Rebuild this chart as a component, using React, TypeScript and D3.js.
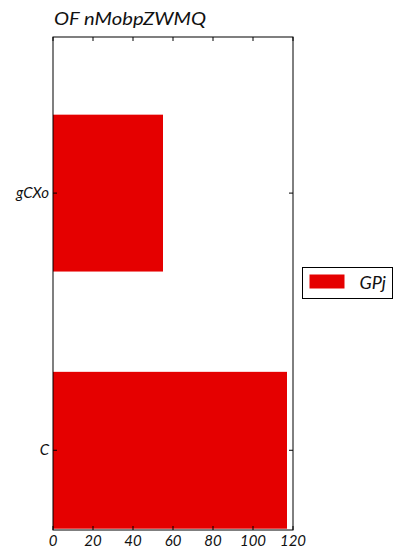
import React from 'react'
import { scaleLinear } from 'd3'

const categories = ['C', 'gCXo']
const seriesName = 'GPj'
const values = [117, 55]
const xTicks = [0, 20, 40, 60, 80, 100, 120]
const title = 'OF nMobpZWMQ'

const W = 420
const H = 560
const margin = { left: 53, right: 127, top: 37, bottom: 30 }
const FONT = "'Lato', 'DejaVu Sans', sans-serif"
const RED = '#e50000'

const App = () => {
    const x0 = margin.left
    const x1 = W - margin.right
    const y0 = margin.top
    const y1 = H - margin.bottom

    const xScale = scaleLinear().domain([0, 120]).range([x0, x1])
    const yScale = scaleLinear().domain([-0.31, 1.607]).range([y1, y0])
    const barH = yScale(0) - yScale(0.61)

    return (
        <svg width={W} height={H} style={{ position: 'absolute', left: 0, top: 0, background: '#fff' }}>
            <text
                x={x0 + 1}
                y={25}
                fontFamily={FONT}
                fontStyle="italic"
                fontSize={18}
                fill="#111"
                textLength={152}
                lengthAdjust="spacingAndGlyphs"
            >
                {title}
            </text>

            {categories.map((c, i) => (
                <rect
                    key={c}
                    x={xScale(0)}
                    y={yScale(i) - barH / 2}
                    width={xScale(values[i]) - xScale(0)}
                    height={barH}
                    fill={RED}
                />
            ))}

            {/* x ticks, inward on top and bottom */}
            {xTicks.map(t => (
                <g key={t}>
                    <line x1={xScale(t)} x2={xScale(t)} y1={y1} y2={y1 - 4} stroke="#000" strokeWidth={1} />
                    <line x1={xScale(t)} x2={xScale(t)} y1={y0} y2={y0 + 4} stroke="#000" strokeWidth={1} />
                    <text
                        x={xScale(t)}
                        y={y1 + 16}
                        textAnchor="middle"
                        fontFamily={FONT}
                        fontStyle="italic"
                        fontSize={15}
                        fill="#111"
                    >
                        {t}
                    </text>
                </g>
            ))}

            {/* y ticks */}
            {categories.map((c, i) => (
                <g key={c}>
                    <line x1={x0} x2={x0 + 4} y1={yScale(i)} y2={yScale(i)} stroke="#000" strokeWidth={1} />
                    <line x1={x1} x2={x1 - 4} y1={yScale(i)} y2={yScale(i)} stroke="#000" strokeWidth={1} />
                    <text
                        x={x0 - 4}
                        y={yScale(i) + 5}
                        textAnchor="end"
                        fontFamily={FONT}
                        fontStyle="italic"
                        fontSize={15}
                        fill="#111"
                    >
                        {c}
                    </text>
                </g>
            ))}

            <rect x={x0} y={y0} width={x1 - x0} height={y1 - y0} fill="none" stroke="#000" strokeWidth={1} />

            {/* legend */}
            <g transform="translate(302.5, 267.5)">
                <rect width={90} height={31} fill="#fff" stroke="#000" strokeWidth={1} />
                <rect x={7} y={7} width={35} height={14} fill={RED} />
                <text x={57} y={21} fontFamily={FONT} fontStyle="italic" fontSize={18} fill="#111">
                    {seriesName}
                </text>
            </g>
        </svg>
    )
}

export default App
